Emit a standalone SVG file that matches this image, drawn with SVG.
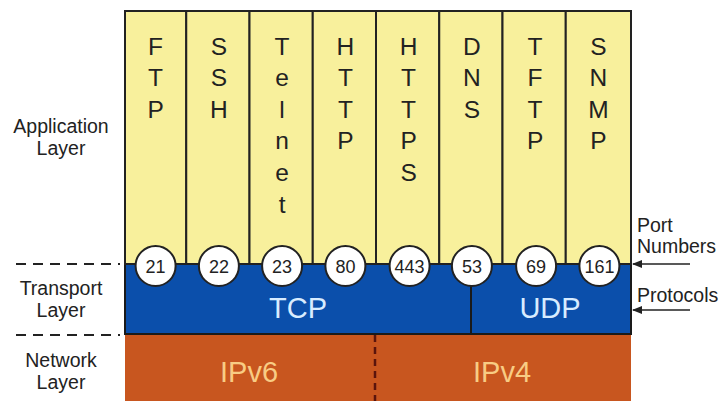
<svg xmlns="http://www.w3.org/2000/svg" width="720" height="401" viewBox="0 0 720 401">
<defs>
<style>
.lbl{font-family:"Liberation Sans",Arial,sans-serif;font-size:19.5px;fill:#222;text-anchor:middle}
.rl{font-family:"Liberation Sans",Arial,sans-serif;font-size:19.5px;fill:#222}
.col{fill:#f8f09c;stroke:#222;stroke-width:2}
.ch{font-family:"Liberation Sans",Arial,sans-serif;font-size:24.5px;fill:#222;text-anchor:middle}
.port circle{fill:#fff;stroke:#222;stroke-width:2}
.port text{font-family:"Liberation Sans",Arial,sans-serif;font-size:18px;fill:#222;text-anchor:middle}
.big{font-family:"Liberation Sans",Arial,sans-serif;font-size:29px;text-anchor:middle}
.dash{stroke:#222;stroke-width:2;stroke-dasharray:10 7}
</style>
<marker id="ah" viewBox="0 0 10 10" refX="9" refY="5" markerWidth="7" markerHeight="7" orient="auto">
<path d="M0,1 L10,5 L0,9 Z" fill="#222"/>
</marker>
</defs>
<rect width="720" height="401" fill="#fff"/>

<g id="layer-labels">
<text class="lbl" x="61" y="133">Application</text>
<text class="lbl" x="61" y="155">Layer</text>
<text class="lbl" x="61" y="295">Transport</text>
<text class="lbl" x="61" y="317">Layer</text>
<text class="lbl" x="61" y="367">Network</text>
<text class="lbl" x="61" y="389">Layer</text>
<line class="dash" x1="16" y1="264" x2="120" y2="264"/>
<line class="dash" x1="16" y1="335" x2="120" y2="335"/>
</g>

<g id="network-layer">
<rect x="125" y="334" width="506" height="67" fill="#c8561f"/>
<line x1="375" y1="335" x2="375" y2="401" stroke="#5a140c" stroke-width="2.5" stroke-dasharray="7 5"/>
<text class="big" x="249" y="382" fill="#f8cc84">IPv6</text>
<text class="big" x="502" y="382" fill="#f8cc84">IPv4</text>
</g>

<g id="transport-layer">
<rect x="125" y="264" width="506" height="70" fill="#0b4fab" stroke="#1a1a1a" stroke-width="2"/>
<line x1="471" y1="280" x2="471" y2="334" stroke="#1a1a1a" stroke-width="2"/>
<text class="big" x="298" y="318" fill="#d8ecff">TCP</text>
<text class="big" x="550" y="318" fill="#d8ecff">UDP</text>
</g>

<g id="app-ftp"><rect class="col" x="125" y="11" width="61.25" height="253"/>
<text class="ch" x="155.6" y="55">F</text><text class="ch" x="155.6" y="86">T</text><text class="ch" x="155.6" y="118">P</text></g>
<g id="app-ssh"><rect class="col" x="186.25" y="11" width="63.25" height="253"/>
<text class="ch" x="218.9" y="55">S</text><text class="ch" x="218.9" y="86">S</text><text class="ch" x="218.9" y="118">H</text></g>
<g id="app-telnet"><rect class="col" x="249.5" y="11" width="63.25" height="253"/>
<text class="ch" x="282.1" y="55">T</text><text class="ch" x="282.1" y="86">e</text><text class="ch" x="282.1" y="118">l</text><text class="ch" x="282.1" y="149">n</text><text class="ch" x="282.1" y="181">e</text><text class="ch" x="282.1" y="213">t</text></g>
<g id="app-http"><rect class="col" x="312.75" y="11" width="63.25" height="253"/>
<text class="ch" x="345.4" y="55">H</text><text class="ch" x="345.4" y="86">T</text><text class="ch" x="345.4" y="118">T</text><text class="ch" x="345.4" y="149">P</text></g>
<g id="app-https"><rect class="col" x="376" y="11" width="63.25" height="253"/>
<text class="ch" x="408.6" y="55">H</text><text class="ch" x="408.6" y="86">T</text><text class="ch" x="408.6" y="118">T</text><text class="ch" x="408.6" y="149">P</text><text class="ch" x="408.6" y="181">S</text></g>
<g id="app-dns"><rect class="col" x="439.25" y="11" width="63.25" height="253"/>
<text class="ch" x="471.9" y="55">D</text><text class="ch" x="471.9" y="86">N</text><text class="ch" x="471.9" y="118">S</text></g>
<g id="app-tftp"><rect class="col" x="502.5" y="11" width="63.25" height="253"/>
<text class="ch" x="535.1" y="55">T</text><text class="ch" x="535.1" y="86">F</text><text class="ch" x="535.1" y="118">T</text><text class="ch" x="535.1" y="149">P</text></g>
<g id="app-snmp"><rect class="col" x="565.75" y="11" width="65.25" height="253"/>
<text class="ch" x="598.4" y="55">S</text><text class="ch" x="598.4" y="86">N</text><text class="ch" x="598.4" y="118">M</text><text class="ch" x="598.4" y="149">P</text></g>

<g id="ports" class="port">
<g id="port-21"><circle cx="155.6" cy="266" r="20"/><text x="155.6" y="272.5">21</text></g>
<g id="port-22"><circle cx="218.9" cy="266" r="20"/><text x="218.9" y="272.5">22</text></g>
<g id="port-23"><circle cx="282.1" cy="266" r="20"/><text x="282.1" y="272.5">23</text></g>
<g id="port-80"><circle cx="345.4" cy="266" r="20"/><text x="345.4" y="272.5">80</text></g>
<g id="port-443"><circle cx="409.6" cy="266" r="20"/><text x="409.6" y="272.5">443</text></g>
<g id="port-53"><circle cx="471.9" cy="266" r="20"/><text x="471.9" y="272.5">53</text></g>
<g id="port-69"><circle cx="536.1" cy="266" r="20"/><text x="536.1" y="272.5">69</text></g>
<g id="port-161"><circle cx="599.4" cy="266" r="20"/><text x="599.4" y="272.5">161</text></g>
</g>

<g id="side-labels">
<text class="rl" x="637" y="232">Port</text>
<text class="rl" x="637" y="253">Numbers</text>
<text class="rl" x="637" y="302">Protocols</text>
</g>

<g id="connectors">
<line x1="690" y1="264" x2="633" y2="264" stroke="#222" stroke-width="1.5" marker-end="url(#ah)"/>
<line x1="690" y1="310" x2="633" y2="310" stroke="#222" stroke-width="1.5" marker-end="url(#ah)"/>
</g>
</svg>
